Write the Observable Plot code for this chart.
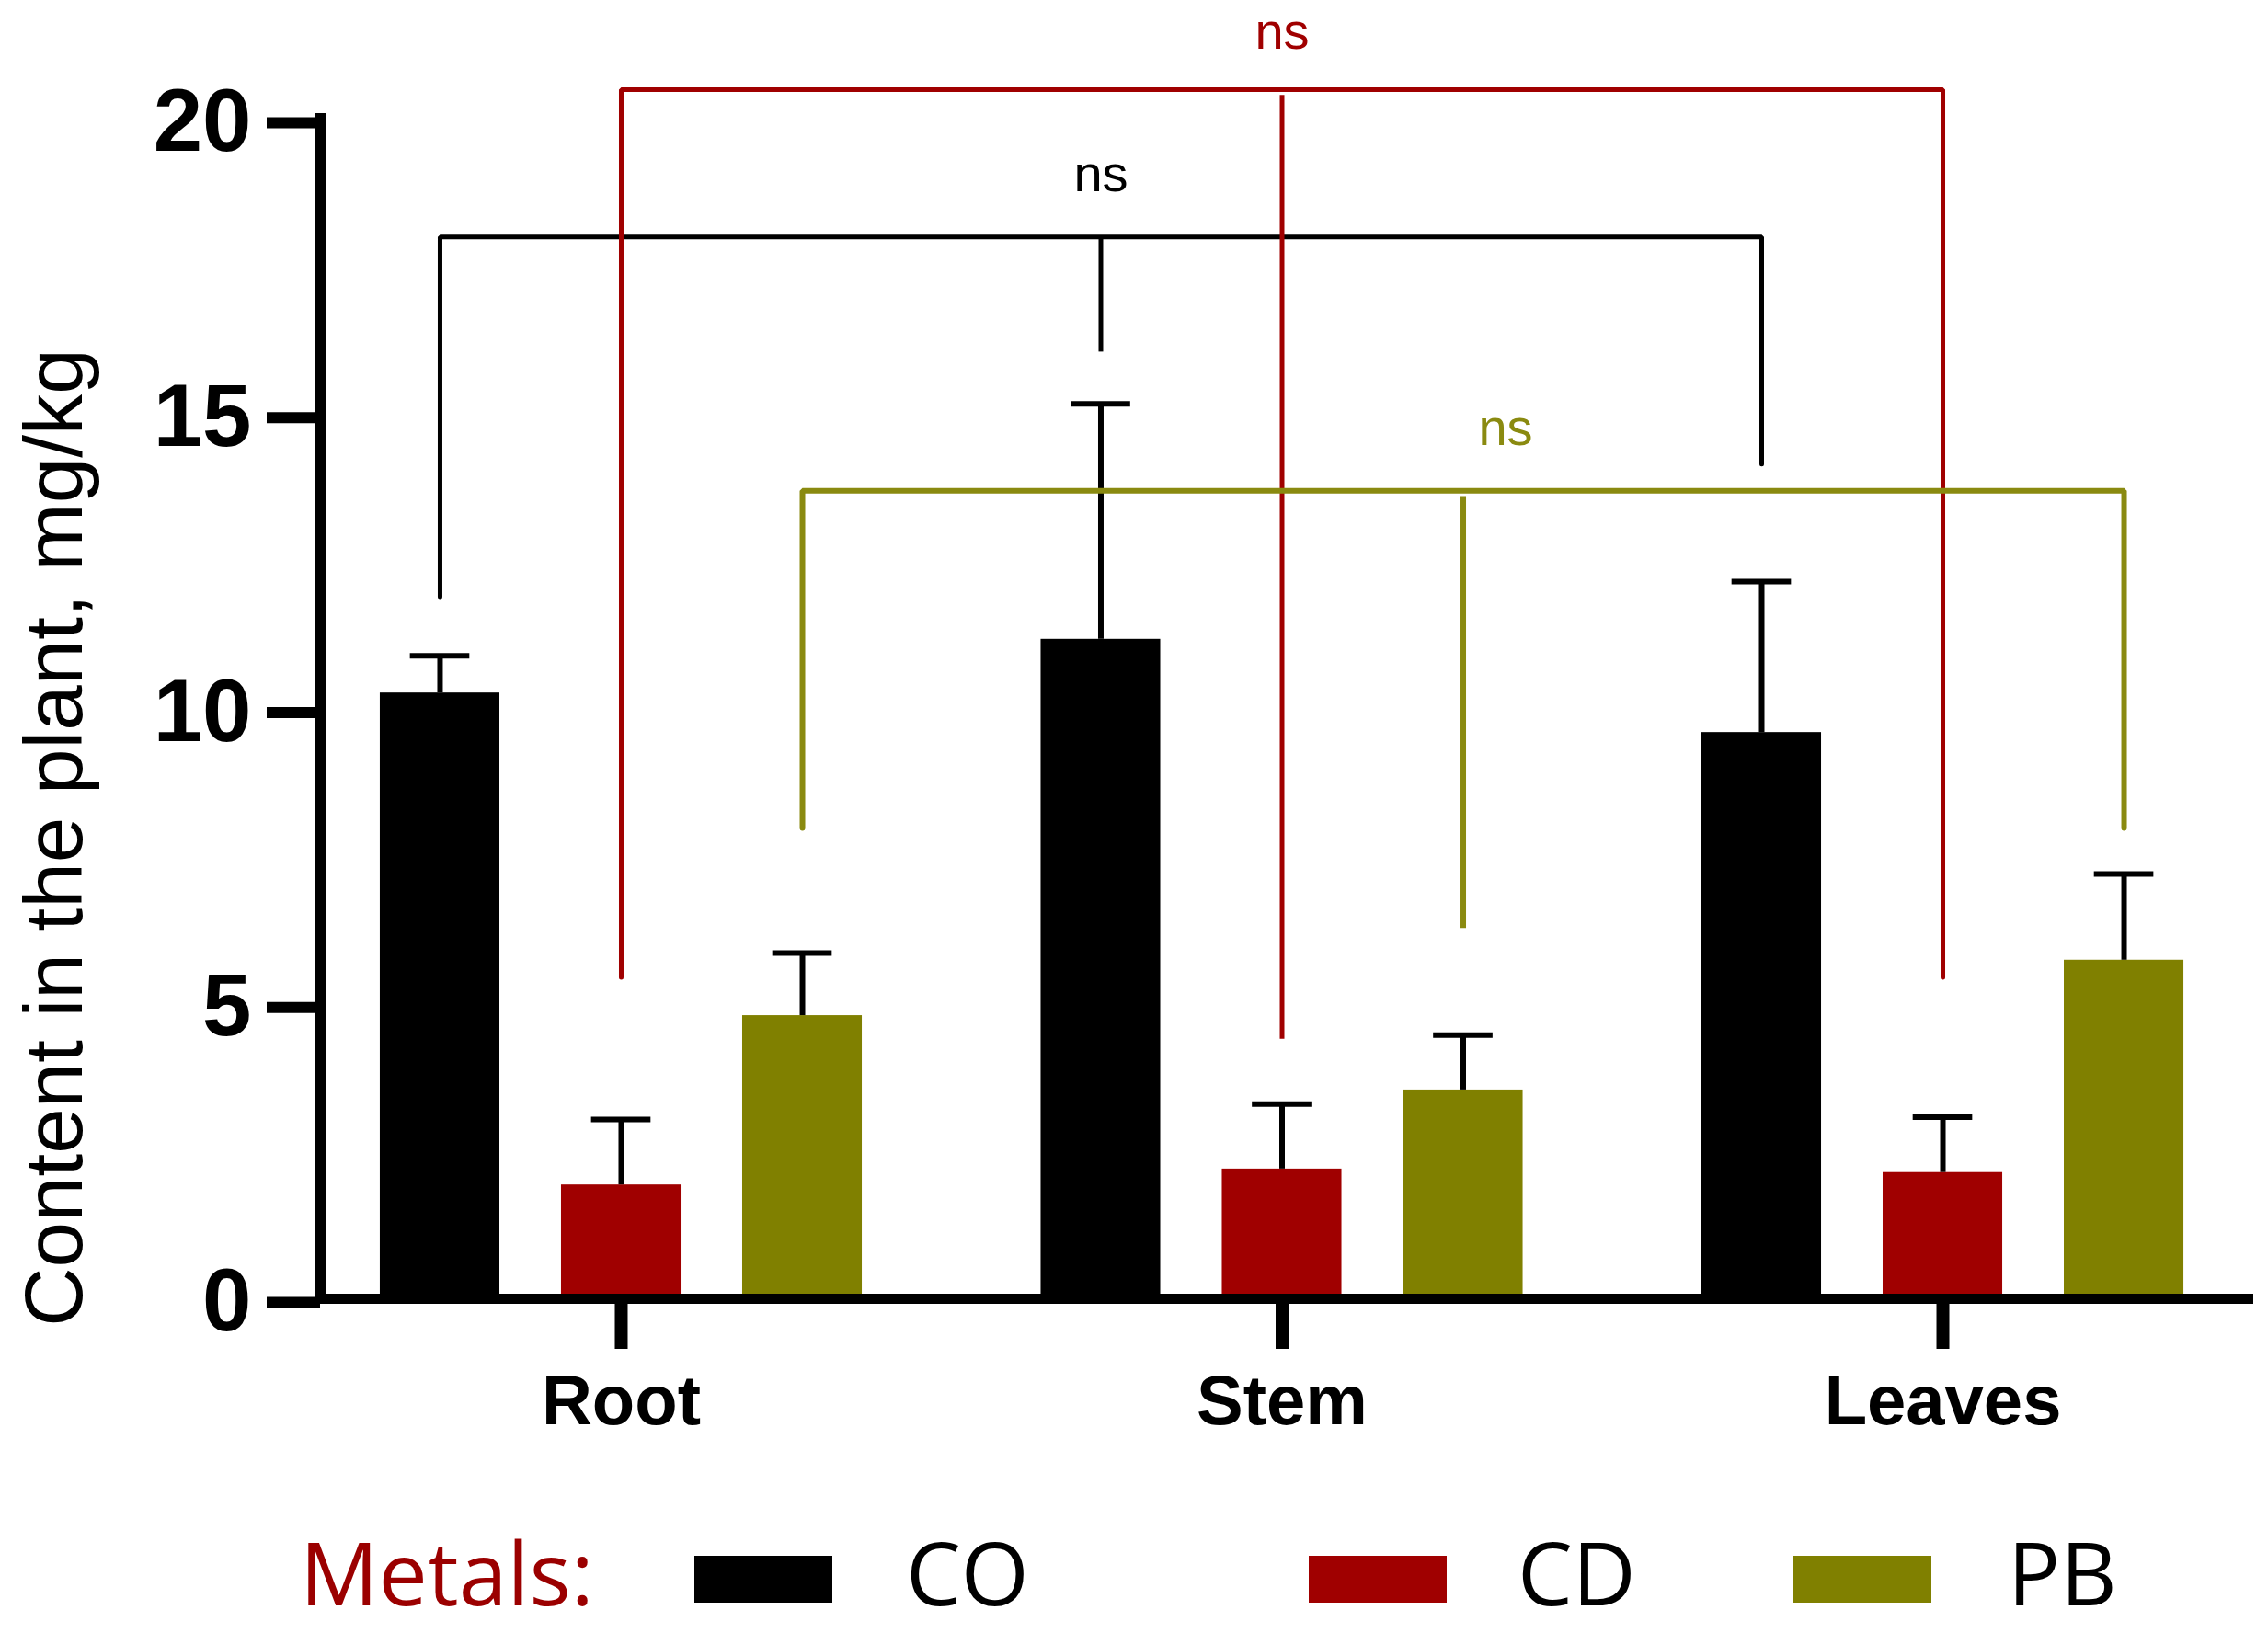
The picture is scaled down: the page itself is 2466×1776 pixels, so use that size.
<!DOCTYPE html>
<html>
<head>
<meta charset="utf-8">
<script src="https://cdn.jsdelivr.net/npm/d3@7"></script>
<script src="https://cdn.jsdelivr.net/npm/@observablehq/plot@0.6"></script>
<style>
  html, body { margin: 0; padding: 0; background: #ffffff; overflow: hidden; }
  svg { display: block; }
</style>
</head>
<body>
<div id="chart"></div>
<script>
// ---------- data ----------
const organs = ["Root", "Stem", "Leaves"];
const metals = ["CO", "CD", "PB"];
const metalColors = ["#000000", "#a00000", "#808000"];
const bracketColors = ["#000000", "#a00000", "#8a8a10"];

const coMean = [10.27, 11.18, 9.60];
const cdMean = [1.93, 2.20, 2.14];
const pbMean = [4.80, 3.54, 5.74];
const coSD = [0.63, 3.99, 2.56];
const cdSD = [1.11, 1.10, 0.94];
const pbSD = [1.06, 0.93, 1.46];

const yTicks = [0, 5, 10, 15, 20];

// significance brackets (one per metal, across Root / Stem / Leaves)
const bracketTop = [18.0, 20.5, 13.7];
const bracketMidTop = [18.0, 20.4, 13.6];
const coLegEnd = [11.9, 16.05, 14.15];
const cdLegEnd = [5.45, 4.4, 5.45];
const pbLegEnd = [7.98, 6.28, 7.98];
const bracketLabel = ["ns", "ns", "ns"];
const bracketLabelY = [18.78, 21.2, 14.48];

// ---------- layout ----------
const W = 2466, H = 1590;
const metalOffset = 0.2742;   // spacing of bars within a group (group step = 1)
const barHalf = 0.0905;
const capHalf = 0.045;
const nsShift = [0, 0, 0.064];
const bracketWidth = [5, 5, 6];
const xDomain = [-0.4551, 2.4704];

const means = [coMean, cdMean, pbMean];
const sds = [coSD, cdSD, pbSD];
const legEnds = [coLegEnd, cdLegEnd, pbLegEnd];

const rows = [];
organs.forEach((o, i) => metals.forEach((m, j) => {
  rows.push({organ: o, metal: m, mean: means[j][i], sd: sds[j][i], pos: i + (j - 1) * metalOffset});
}));

const font = "Liberation Sans, Arial, sans-serif";

// bracket marks, drawn in metal order (black, red, olive)
const bracketMarks = [];
metals.forEach((m, j) => {
  const off = (j - 1) * metalOffset;
  const pts = [
    {pos: 0 + off, y: legEnds[j][0]},
    {pos: 0 + off, y: bracketTop[j]},
    {pos: 2 + off, y: bracketTop[j]},
    {pos: 2 + off, y: legEnds[j][2]}
  ];
  const mid = [{pos: 1 + off, top: bracketMidTop[j], end: legEnds[j][1]}];
  const lab = [{pos: 1 + off + nsShift[j], y: bracketLabelY[j], text: bracketLabel[j]}];
  bracketMarks.push(
    Plot.line(pts, {x: "pos", y: "y", stroke: bracketColors[j], strokeWidth: bracketWidth[j], strokeLinejoin: "miter"}),
    Plot.ruleX(mid, {x: "pos", y1: "top", y2: "end", stroke: bracketColors[j], strokeWidth: bracketWidth[j]}),
    Plot.text(lab, {x: "pos", y: "y", text: "text", fill: bracketColors[j], fontSize: 56, lineAnchor: "bottom", textAnchor: "middle", fontFamily: font})
  );
});

const chart = Plot.plot({
  width: W,
  height: H,
  marginLeft: 348,
  marginRight: 16,
  marginTop: 129,
  marginBottom: H - 1412,
  x: {type: "linear", domain: xDomain, range: [348, 2450]},
  y: {domain: [0, 20], range: [1412, 129]},
  color: {domain: metals, range: metalColors},
  style: {fontFamily: font, background: "white", color: "black"},
  marks: [
    // bars
    Plot.rect(rows, {x1: d => d.pos - barHalf, x2: d => d.pos + barHalf, y1: 0, y2: "mean", fill: "metal"}),
    // error bars
    Plot.ruleX(rows, {x: "pos", y1: "mean", y2: d => d.mean + d.sd, stroke: "black", strokeWidth: 6}),
    Plot.ruleY(rows, {x1: d => d.pos - capHalf, x2: d => d.pos + capHalf, y: d => d.mean + d.sd, stroke: "black", strokeWidth: 6}),
    // axes
    Plot.ruleY([0], {stroke: "black", strokeWidth: 11}),
    Plot.ruleX([xDomain[0]], {y1: 0, y2: 20, stroke: "black", strokeWidth: 12, strokeLinecap: "square"}),
    Plot.axisY({ticks: yTicks, tickSize: 58, tickPadding: 17, strokeWidth: 12, fontSize: 96, fontWeight: "bold", fontFamily: font, label: null, dy: 4}),
    Plot.axisX({ticks: [0, 1, 2], tickFormat: i => organs[i], tickSize: 55, tickPadding: 28, strokeWidth: 14, fontSize: 76, fontWeight: "bold", fontFamily: font, label: null}),
    Plot.text(["Content in the plant, mg/kg"], {frameAnchor: "left", dx: -260, dy: 140, rotate: -90, fontSize: 89, lineAnchor: "bottom", textAnchor: "middle", fontFamily: font, fill: "black"}),
    // significance brackets
    ...bracketMarks
  ]
});
document.getElementById("chart").appendChild(chart);

// ---------- legend (below the chart) ----------
const legendSwatchX = [755, 1423, 1950];
const legendTextX = [991, 1656, 2189];
const legH = 1776 - H;
const baseY = 1746 - H;
const leg = d3.create("svg")
  .attr("width", W)
  .attr("height", legH)
  .style("display", "block")
  .style("background", "white");
const legFont = "95px 'Open Sans', 'Noto Sans', sans-serif";
leg.append("text")
  .attr("x", 326).attr("y", baseY)
  .attr("fill", "#9b0000")
  .style("font", legFont)
  .text("Metals:");
metals.forEach((m, i) => {
  leg.append("rect")
    .attr("x", legendSwatchX[i]).attr("y", baseY - 54)
    .attr("width", 150).attr("height", 51)
    .attr("fill", metalColors[i]);
  leg.append("text")
    .attr("x", legendTextX[i] - 6).attr("y", baseY)
    .attr("fill", "black")
    .style("font", legFont)
    .text(m);
});
document.getElementById("chart").appendChild(leg.node());
</script>
</body>
</html>
